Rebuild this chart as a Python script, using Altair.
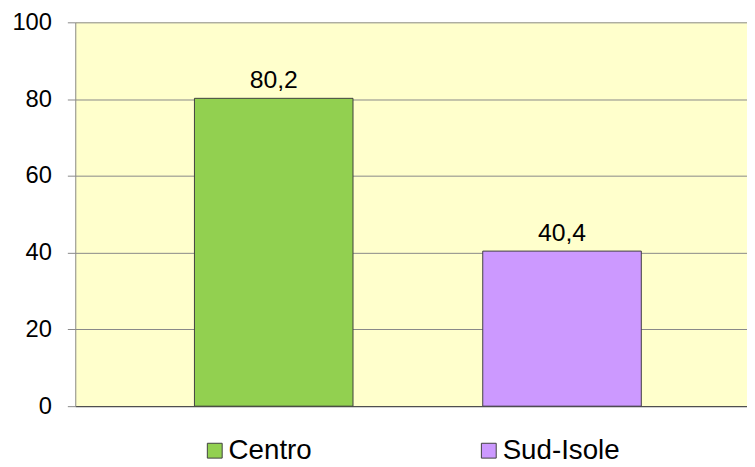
import altair as alt
import pandas as pd

categories = ["Centro", "Sud-Isole"]
values = [80.2, 40.4]
colors = ["#92D050", "#CC99FF"]
y_ticks = [0, 20, 40, 60, 80, 100]

df = pd.DataFrame({
    "cat": categories,
    "val": values,
    "label": [f"{v:.1f}".replace(".", ",") for v in values],
})

FONT = "Liberation Sans"

x_enc = alt.X(
    "cat:N",
    sort=categories,
    scale=alt.Scale(paddingInner=0.45, paddingOuter=0.39, align=0.53),
    axis=alt.Axis(labels=False, ticks=False, title=None, domainColor="#404040",
                  domainWidth=1, grid=False),
)
y_enc = alt.Y(
    "val:Q",
    scale=alt.Scale(domain=[0, 100], nice=False),
    axis=alt.Axis(values=y_ticks, tickSize=8, tickColor="#888888", domainColor="#888888",
                  gridColor="#888888", gridWidth=1, labelFontSize=24, labelFont=FONT,
                  labelColor="#000000", labelPadding=16, title=None),
)

bars = alt.Chart(df).mark_bar(stroke="#404040", strokeWidth=1).encode(
    x=x_enc,
    y=y_enc,
    color=alt.Color(
        "cat:N",
        scale=alt.Scale(domain=categories, range=colors),
        legend=alt.Legend(
            orient="none", legendX=127, legendY=419, direction="horizontal",
            symbolType="square", symbolSize=225, symbolStrokeColor="#404040",
            symbolStrokeWidth=1, symbolOpacity=1, labelFontSize=28, labelFont=FONT,
            labelColor="#000000", columnPadding=164, labelOffset=0, title=None, padding=0,
        ),
    ),
)

labels = alt.Chart(df).mark_text(
    dy=-10, baseline="alphabetic", fontSize=25, font=FONT, color="#000000"
).encode(x=alt.X("cat:N", sort=categories), y="val:Q", text="label:N")

chart = (bars + labels).properties(
    width=679, height=388,
    autosize=alt.AutoSizeParams(type="none"),
    padding={"left": 68, "top": 12, "right": 0, "bottom": 59},
).configure_view(fill="#FFFFCC", strokeWidth=0)

chart.save("out.html", embed_options={"renderer": "svg", "actions": False})
